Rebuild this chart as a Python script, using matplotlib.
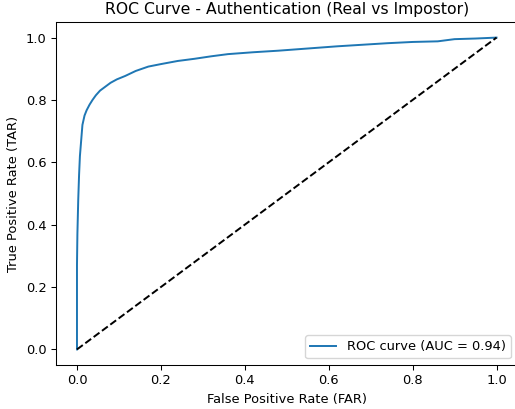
import matplotlib
matplotlib.use("Agg")
import matplotlib.pyplot as plt

fpr = [0, 0, 0.001, 0.003, 0.005, 0.007, 0.010, 0.013, 0.018, 0.023, 0.030, 0.037,
       0.045, 0.055, 0.065, 0.080, 0.095, 0.115, 0.14, 0.17, 0.2, 0.24, 0.28, 0.32,
       0.36, 0.42, 0.48, 0.55, 0.62, 0.68, 0.74, 0.80, 0.86, 0.90, 0.95, 1.0]
tpr = [0, 0.27, 0.37, 0.48, 0.56, 0.62, 0.67, 0.72, 0.75, 0.767, 0.785, 0.80,
       0.815, 0.83, 0.84, 0.855, 0.866, 0.877, 0.893, 0.907, 0.915, 0.925, 0.932, 0.94,
       0.947, 0.953, 0.958, 0.965, 0.972, 0.977, 0.982, 0.986, 0.988, 0.995, 0.997, 1.0]
auc_value = 0.94
chance = [0, 1]

s = 0.94
plt.rcParams.update({
    "font.size": 10 * s,
    "axes.titlesize": 12 * s,
    "lines.linewidth": 1.5 * s,
    "axes.linewidth": 0.8 * s,
    "xtick.major.size": 3.5 * s,
    "ytick.major.size": 3.5 * s,
    "xtick.major.width": 0.8 * s,
    "ytick.major.width": 0.8 * s,
})

fig = plt.figure(figsize=(5.15, 4.09), dpi=100)
W, H = 515, 409
ax = fig.add_axes([56 / W, (H - 365) / H, (517.5 - 56) / W, (365 - 22) / H])
ax.plot(fpr, tpr, color="#1f77b4", label=f"ROC curve (AUC = {auc_value:.2f})")
ax.plot(chance, chance, "k--")
ax.set_xlabel("False Positive Rate (FAR)")
ax.set_ylabel("True Positive Rate (TAR)")
ax.set_title("ROC Curve - Authentication (Real vs Impostor)", pad=6 * s)
ax.legend(loc="lower right")
fig.savefig("out.png", dpi=100)
